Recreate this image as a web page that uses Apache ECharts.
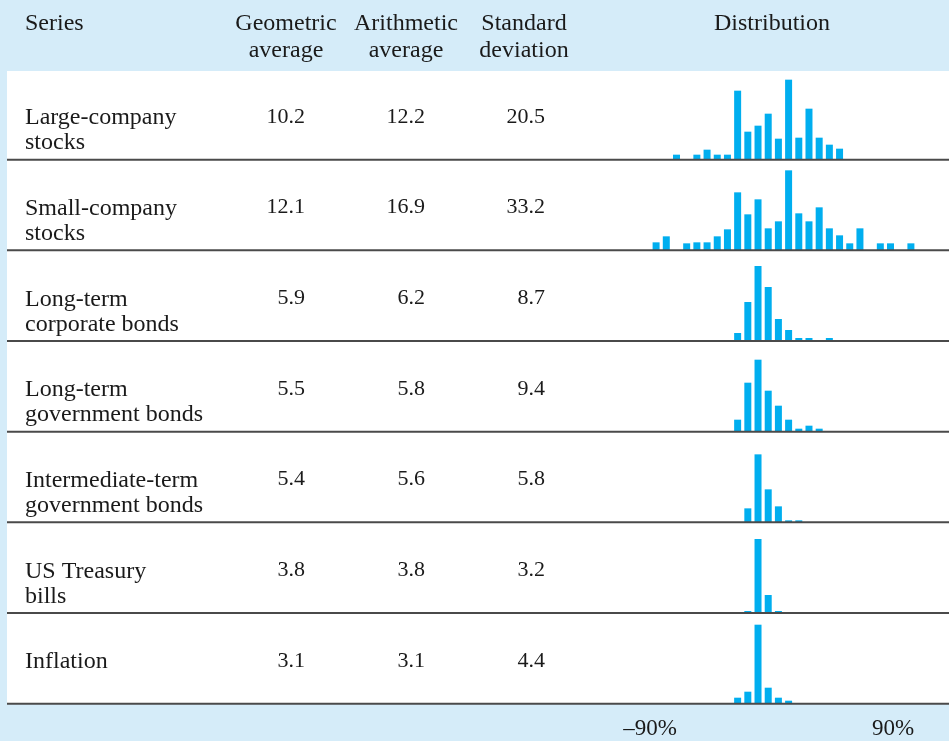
<!DOCTYPE html>
<html>
<head>
<meta charset="utf-8">
<script src="https://cdn.jsdelivr.net/npm/echarts@6/dist/echarts.min.js"></script>
<style>
html, body { margin: 0; padding: 0; background: #d5ecf9; }
#main { width: 949px; height: 741px; }
</style>
</head>
<body>
<div id="main"></div>
<script>
// table columns
var rowNames = ['Large-company\nstocks', 'Small-company\nstocks', 'Long-term\ncorporate bonds',
	'Long-term\ngovernment bonds', 'Intermediate-term\ngovernment bonds', 'US Treasury\nbills', 'Inflation'];
var geometricAvg = [10.2, 12.1, 5.9, 5.5, 5.4, 3.8, 3.1];
var arithmeticAvg = [12.2, 16.9, 6.2, 5.8, 5.6, 3.8, 3.1];
var stdDev = [20.5, 33.2, 8.7, 9.4, 5.8, 3.2, 4.4];
var headers = ['Series', 'Geometric\naverage', 'Arithmetic\naverage', 'Standard\ndeviation', 'Distribution'];

// histogram bins (returns, -90% .. 90%) and bar heights per series
var bins = ['b0','b1','b2','b3','b4','b5','b6','b7','b8','b9','b10','b11','b12',
	'b13','b14','b15','b16','b17','b18','b19','b20','b21','b22','b23','b24','b25'];
var distLarge = [0,0,5,0,5,10,5,5,69,28,34,46,21,80,22,51,22,15,11,0,0,0,0,0,0,0];
var distSmall = [8,14,0,7,8,8,14,21,58,36,51,22,29,80,37,29,43,22,15,7,22,0,7,7,0,7];
var distCorp  = [0,0,0,0,0,0,0,0,8,39,75,54,22,11,3,3,0,3,0,0,0,0,0,0,0,0];
var distGov   = [0,0,0,0,0,0,0,0,12,49,72,41,26,12,3,6,3,0,0,0,0,0,0,0,0,0];
var distInter = [0,0,0,0,0,0,0,0,0,14,68,33,16,2,2,0,0,0,0,0,0,0,0,0,0,0];
var distBills = [0,0,0,0,0,0,0,0,0,2,74,18,2,0,0,0,0,0,0,0,0,0,0,0,0,0];
var distInfl  = [0,0,0,0,0,0,0,0,6,12,79,16,6,3,0,0,0,0,0,0,0,0,0,0,0,0];
var distributions = [distLarge, distSmall, distCorp, distGov, distInter, distBills, distInfl];
var tickValues = [-90, 90];

var myChart = echarts.init(document.getElementById('main'));

var font = 'Liberation Serif';
var textColor = '#1a1a1a';
var rowTop0 = 69, rowH = 90.67;
var histH = 85;

var grids = [], xAxes = [], yAxes = [], series = [], graphics = [];

// backgrounds
graphics.push({type:'rect', z:0, shape:{x:7, y:71, width:942, height:632}, style:{fill:'#fff'}});

// header texts
var headerX = [25, 286, 406, 524, 772];
headers.forEach(function(h, i){
	h.split('\n').forEach(function(line, j){
		graphics.push({type:'text', z:5, x:headerX[i], y:24 + j*27,
			style:{text:line, font:'24px "' + font + '"', fill:textColor,
				align: i === 0 ? 'left' : 'center', verticalAlign:'middle'}});
	});
});

rowNames.forEach(function(name, i){
	var top = rowTop0 + rowH*i;
	var lineY = top + rowH;
	var cy = top + 48;
	name.split('\n').forEach(function(line, j){
		graphics.push({type:'text', z:5, x:25, y:cy + 1 + j*25,
			style:{text:line, font:'24px "' + font + '"', fill:textColor, align:'left', verticalAlign:'middle'}});
	});
	[[geometricAvg, 305], [arithmeticAvg, 425], [stdDev, 545]].forEach(function(c){
		graphics.push({type:'text', z:5, x:c[1], y:cy,
			style:{text:c[0][i].toFixed(1), font:'22px "' + font + '"', fill:textColor, align:'right', verticalAlign:'middle'}});
	});
	graphics.push({type:'rect', z:6, shape:{x:7, y:lineY-1, width:942, height:2}, style:{fill:'#4a4a4a'}});

	grids.push({left:651, width:265, top:lineY - histH, height:histH});
	xAxes.push({type:'category', gridIndex:i, data:bins, show:false});
	yAxes.push({type:'value', gridIndex:i, min:0, max:histH, show:false});
	series.push({
		type:'bar',
		xAxisIndex:i,
		yAxisIndex:i,
		barWidth:7,
		itemStyle:{color:'#00aeef'},
		silent:true,
		data:distributions[i]
	});
});

// return scale under the histograms
grids.push({left:650, right:56, top:708, height:1});
xAxes.push({
	type:'value', gridIndex:7, min:-90, max:90, interval:90,
	axisLine:{show:false}, axisTick:{show:false}, splitLine:{show:false},
	axisLabel:{
		margin:8, color:textColor, fontFamily:font, fontSize:23,
		formatter:function(v){
			if (tickValues.indexOf(v) < 0) return '';
			return (v < 0 ? '\u2013' + (-v) : v) + '%';
		}
	}
});
yAxes.push({type:'value', gridIndex:7, show:false});

var option = {
	backgroundColor:'#d5ecf9',
	animation:false,
	grid:grids,
	xAxis:xAxes,
	yAxis:yAxes,
	series:series,
	graphic:{elements:graphics}
};
myChart.setOption(option);
</script>
</body>
</html>
